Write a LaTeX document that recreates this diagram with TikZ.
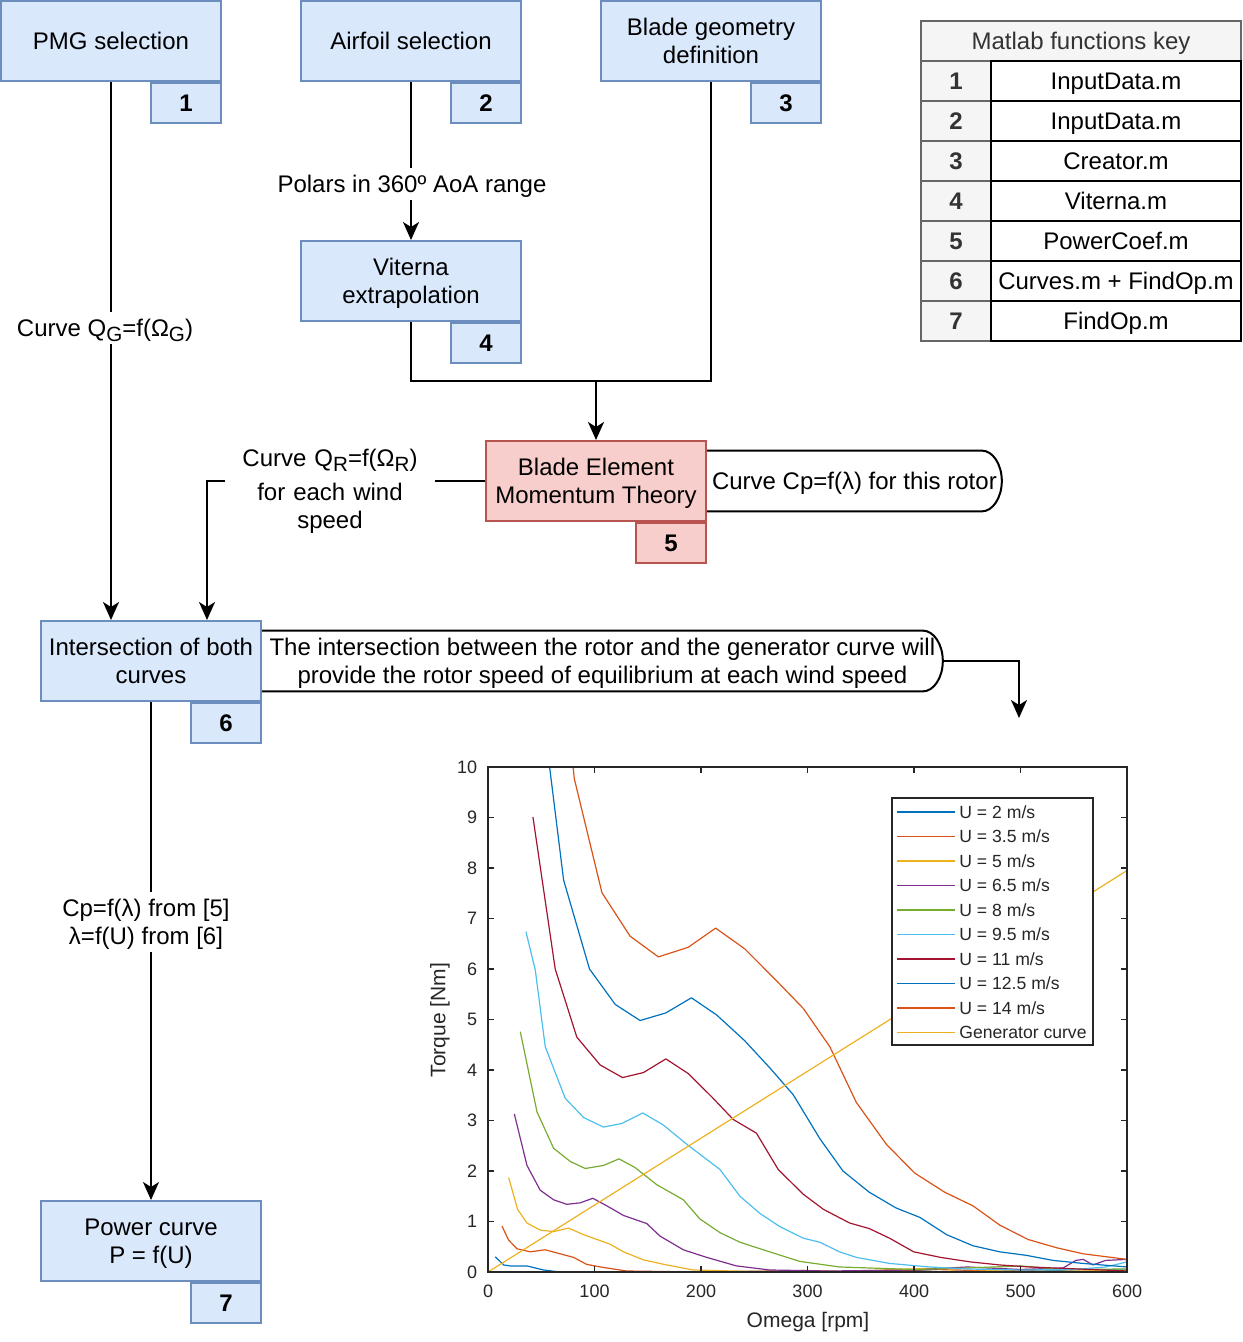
\documentclass[tikz,border=0pt]{standalone}
\usepackage{fontspec}
\setmainfont{Liberation Sans}
\usetikzlibrary{arrows.meta,calc}
\definecolor{bfill}{HTML}{DAE8FC}
\definecolor{bdraw}{HTML}{6C8EBF}
\definecolor{rfill}{HTML}{F8CECC}
\definecolor{rdraw}{HTML}{B85450}
\definecolor{tgray}{HTML}{F5F5F5}
\definecolor{tline}{HTML}{666666}
\definecolor{ttext}{HTML}{333333}
\definecolor{axc}{HTML}{262626}
\definecolor{mA}{HTML}{0072BD}
\definecolor{mB}{HTML}{D95319}
\definecolor{mC}{HTML}{EDB120}
\definecolor{mD}{HTML}{7E2F8E}
\definecolor{mE}{HTML}{77AC30}
\definecolor{mF}{HTML}{4DBEEE}
\definecolor{mG}{HTML}{A2142F}
\newcommand\sbs[1]{\raisebox{-0.4ex}{\fontsize{10.3}{10}\selectfont #1}}
\newcommand\mainsize{\fontsize{12}{14}\selectfont}
\newcommand\st{\rule[-3pt]{0pt}{14.3pt}}
\begin{document}
\begin{tikzpicture}[x=0.5pt,y=-0.5pt,font=\mainsize,
  strutted/.style={execute at begin node=\st,execute at end node=\st},
  box/.style={strutted,draw=bdraw,fill=bfill,line width=1pt,minimum width=110pt,minimum height=40pt,inner sep=0pt,align=center},
  rbox/.style={box,draw=rdraw,fill=rfill},
  numbox/.style={strutted,draw=bdraw,fill=bfill,line width=1pt,minimum width=35pt,minimum height=20pt,inner sep=0pt,font=\mainsize\bfseries,anchor=north east},
  rnumbox/.style={numbox,draw=rdraw,fill=rfill},
  conn/.style={line width=1pt},
  arr/.style={line width=1pt,-{Stealth[length=9pt,width=8pt,inset=2.5pt]}},
  lbl/.style={strutted,fill=white,inner sep=1pt,align=center},
  keyc/.style={strutted,draw=tline,fill=tgray,line width=1pt,minimum width=35pt,minimum height=20pt,inner sep=0pt,font=\mainsize\bfseries,text=ttext},
  funcc/.style={strutted,draw=black,fill=white,line width=1pt,minimum width=125pt,minimum height=20pt,inner sep=0pt},
  tick/.style={font=\fontsize{9}{10}\selectfont,text=axc,inner sep=1pt},
  legt/.style={font=\fontsize{8.8}{10}\selectfont,text=axc,inner sep=0pt,anchor=west},
  crv/.style={line width=0.6pt,line join=round}
]
\useasboundingbox (0,0) rectangle (1242,1342);

% ---------- boxes ----------
\node[box] (pmg) at (111,41) {PMG selection};
\node[numbox] (n1) at (pmg.south east) {1};
\node[box] (air) at (411,41) {Airfoil selection};
\node[numbox] (n2) at (air.south east) {2};
\node[box] (geo) at (711,41) {\st Blade geometry\\definition};
\node[numbox] (n3) at (geo.south east) {3};
\node[box] (vit) at (411,281) {\st Viterna\\extrapolation};
\node[numbox] (n4) at (vit.south east) {4};
\node[rbox] (bem) at (596,481) {\st Blade Element\\Momentum Theory};
\node[rnumbox] (n5) at (bem.south east) {5};
\node[box] (inter) at (151,661) {\st Intersection of both\\curves};
\node[numbox] (n6) at (inter.south east) {6};
\node[box] (pow) at (151,1241) {\st Power curve\\P = f(U)};
\node[numbox] (n7) at (pow.south east) {7};

% ---------- callouts ----------
\node[strutted,anchor=west,minimum width=147pt,minimum height=30pt,inner sep=0pt] (cp) at (bem.east) {Curve Cp=f(λ) for this rotor};
\draw[conn] (cp.north west) -- ($(cp.north east)+(-20,0)$) .. controls ($(cp.north east)+(-9,0)$) and ($(cp.east)+(0,-16.6)$) .. (cp.east) .. controls ($(cp.east)+(0,16.6)$) and ($(cp.south east)+(-9,0)$) .. ($(cp.south east)+(-20,0)$) -- (cp.south west);
\node[strutted,anchor=west,minimum width=340pt,minimum height=30pt,inner sep=0pt,align=center] (co) at (inter.east) {\st The intersection between the rotor and the generator curve will\\provide the rotor speed of equilibrium at each wind speed};
\draw[conn] (co.north west) -- ($(co.north east)+(-20,0)$) .. controls ($(co.north east)+(-9,0)$) and ($(co.east)+(0,-16.6)$) .. (co.east) .. controls ($(co.east)+(0,16.6)$) and ($(co.south east)+(-9,0)$) .. ($(co.south east)+(-20,0)$) -- (co.south west);

% ---------- connectors ----------
\draw[arr] (pmg.south) -- (pmg.south |- inter.north);
\draw[arr] (air.south) -- (vit.north);
\coordinate (jn) at (596,381);
\draw[conn] (vit.south) |- (jn);
\draw[conn] (geo.south) |- (jn);
\draw[arr] (jn) -- (bem.north);
\draw[arr] (bem.west) -| ($(inter.north east)+(-55,0)$);
\draw[arr] (inter.south) -- (pow.north);
\coordinate (cin) at (1019,718);
\draw[arr] (co.east) -| (cin);

% ---------- connector labels ----------
\node[lbl] (lqg) at (105,328) {Curve Q\sbs{G}=f(Ω\sbs{G})};
\node[lbl] (lpol) at (412,184) {Polars in 360º AoA range};
\node[lbl,text width=103pt,inner sep=1pt] (lqr) at (330,489) {Curve Q\sbs{R}=f(Ω\sbs{R})\\[3pt]for each wind\\speed};
\node[lbl] (lcp) at (146,922) {\st Cp=f(λ) from [5]\\λ=f(U) from [6]};

% ---------- table ----------
\node[strutted,draw=tline,fill=tgray,line width=1pt,minimum width=160pt,minimum height=20pt,inner sep=0pt,text=ttext] (th) at (1081,41) {Matlab functions key};
\foreach \i in {1,...,7}{
  \node[keyc] (k\i) at (956,{41+40*\i}) {\i};
}
\foreach \i/\f in {1/InputData.m,2/InputData.m,3/Creator.m,4/Viterna.m,5/PowerCoef.m,6/Curves.m + FindOp.m,7/FindOp.m}{
  \node[funcc] (f\i) at (1116,{41+40*\i}) {\f};
}

% ---------- chart ----------
\begin{scope}[shift={(488,1272)},xscale=1.065,yscale=-50.5]
  \begin{scope}
  \clip (0,0) rectangle (600,10);
  \draw[crv,mA] plot coordinates {(6.9,0.30) (14.7,0.14) (21,0.12) (36.6,0.12) (52.2,0.04) (67.8,0.0) (150,0.0) (250,0.01) (330,0.0) (400,0.03) (430,0.0) (470,0.04) (520,0.02) (560,0.05) (600,0.04)};
  \draw[crv,mB] plot coordinates {(13.1,0.91) (19.4,0.63) (27.2,0.46) (39.7,0.40) (53.75,0.44) (67.8,0.36) (80.3,0.29) (92.8,0.15) (108.4,0.09) (130.3,0.02) (200,0.0) (300,0.03) (350,0.0) (420,0.05) (480,0.02) (540,0.06) (600,0.02)};
  \draw[crv,mC] plot coordinates {(19.4,1.87) (27.8,1.24) (36.6,0.97) (49,0.83) (61.6,0.80) (75.6,0.87) (89.7,0.74) (114.7,0.55) (127.2,0.40) (146,0.24) (167.8,0.14) (192.8,0.04) (250,0.01) (330,0.0) (380,0.05) (430,0.08) (440,0.0) (500,0.05) (600,0.03)};
  \draw[crv,mD] plot coordinates {(24.7,3.13) (36.6,2.11) (49,1.62) (61.6,1.43) (74,1.34) (86.6,1.37) (98.4,1.46) (111.6,1.31) (127.2,1.12) (149,0.96) (161.6,0.71) (183.4,0.44) (205.3,0.29) (233.4,0.12) (264.7,0.04) (320,0.02) (400,0.04) (450,0.1) (500,0.05) (540,0.08) (552,0.23) (559,0.25) (568,0.14) (580,0.23) (600,0.25)};
  \draw[crv,mE] plot coordinates {(30.3,4.76) (46,3.17) (61.6,2.45) (77.2,2.19) (91.25,2.05) (108.4,2.11) (123,2.24) (138,2.07) (158.4,1.73) (183.4,1.43) (199,1.05) (217.8,0.78) (236.6,0.59) (258.4,0.44) (292.8,0.21) (330,0.10) (400,0.05) (450,0.08) (500,0.12) (540,0.05) (600,0.06)};
  \draw[crv,mF] plot coordinates {(35.6,6.74) (44.4,5.98) (53.75,4.46) (72.5,3.44) (89.7,3.06) (108.4,2.87) (125.6,2.94) (145.3,3.15) (164.7,2.91) (186.6,2.53) (217.8,2.03) (236.6,1.5) (255.3,1.16) (274,0.9) (296,0.67) (311.6,0.59) (330,0.40) (345.8,0.29) (377,0.17) (414.7,0.10) (450,0.06) (500,0.04) (550,0.05) (580,0.1) (600,0.2)};
  \draw[crv,mG] plot coordinates {(42.2,9.01) (63.1,6.0) (83.4,4.65) (105.3,4.10) (126.3,3.85) (146,3.95) (167,4.22) (188,3.93) (210,3.47) (230.3,3.02) (252,2.75) (272.5,2.03) (296,1.54) (315,1.24) (339.6,0.97) (358,0.86) (377,0.67) (399.7,0.40) (424.8,0.29) (452.9,0.20) (480.5,0.14) (508.6,0.10) (600,0.02)};
  \draw[crv,mA] plot coordinates {(54.9,10.5) (71,7.76) (95.3,6.0) (119.4,5.3) (142.8,4.98) (166.9,5.13) (191,5.43) (214.7,5.09) (241,4.58) (264.7,4.04) (286.6,3.51) (311.6,2.64) (333.3,2.0) (358,1.58) (383,1.27) (405.6,1.08) (430.6,0.74) (455.4,0.52) (480.4,0.40) (505.5,0.33) (530.5,0.23) (558.7,0.17) (600,0.10)};
  \draw[crv,mB] plot coordinates {(77.5,10.5) (81,9.77) (107,7.51) (133.4,6.65) (160,6.24) (188,6.43) (213.75,6.81) (241,6.40) (268,5.83) (296,5.22) (321,4.46) (345.8,3.36) (374,2.53) (400.6,1.96) (428.8,1.58) (455.4,1.31) (480.4,0.93) (507,0.645) (534,0.48) (559,0.36) (600,0.25)};
  \draw[crv,mC] (0,0) -- (600,7.95);
  \end{scope}
  \draw[axc,line width=0.6pt] (0,0) rectangle (600,10);
  \foreach \xv in {0,100,...,600}{
    \draw[axc,line width=0.6pt] (\xv,0) -- ++(0,0.12);
    \draw[axc,line width=0.6pt] (\xv,10) -- ++(0,-0.12);
    \node[tick,anchor=north] (xt\xv) at (\xv,-0.2) {\xv};
  }
  \foreach \yv in {0,1,...,10}{
    \draw[axc,line width=0.6pt] (0,\yv) -- ++(5.6,0);
    \draw[axc,line width=0.6pt] (600,\yv) -- ++(-5.6,0);
    \node[tick,anchor=east] (yt\yv) at (-8,\yv) {\yv};
  }
\end{scope}
\node[font=\fontsize{10.5}{12}\selectfont,text=axc,rotate=90] (ylab) at (440,1020) {Torque [Nm]};
\node[font=\fontsize{10.5}{12}\selectfont,text=axc] (xlab) at (808,1322) {Omega [rpm]};

% legend
\node[draw=axc,fill=white,line width=0.6pt,minimum width=100.5pt,minimum height=123.5pt,inner sep=0pt] (leg) at (992.5,921.5) {};
\foreach \i/\c/\t in {0/mA/{U = 2 m/s},1/mB/{U = 3.5 m/s},2/mC/{U = 5 m/s},3/mD/{U = 6.5 m/s},4/mE/{U = 8 m/s},5/mF/{U = 9.5 m/s},6/mG/{U = 11 m/s},7/mA/{U = 12.5 m/s},8/mB/{U = 14 m/s},9/mC/{Generator curve}}{
  \draw[crv,\c] (897,{812+24.5*\i}) -- (955,{812+24.5*\i});
  \node[legt] (lg\i) at (959,{812+24.5*\i}) {\t};
}
\end{tikzpicture}
\end{document}
